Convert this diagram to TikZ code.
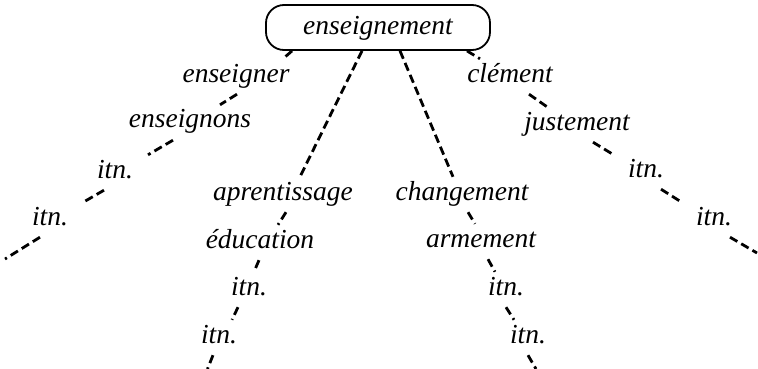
\documentclass[tikz,border=0pt]{standalone}
\usepackage{fontspec}
\setmainfont{Liberation Serif}
\newcommand\wordfont{\fontsize{27.5}{33}\selectfont\itshape}
\begin{document}
\begin{tikzpicture}[x=1pt,y=-1pt,
  word/.style={font=\wordfont, anchor=base, text height=19pt, text depth=8pt, inner sep=4pt},
  rootbox/.style={draw, line width=1.8pt, rounded corners=18pt, font=\wordfont, anchor=base,
    minimum width=224pt, text height=24pt, text depth=9pt, inner ysep=6pt},
  link/.style={line width=2.8pt, dash pattern=on 8.5pt off 4.5pt}]
\useasboundingbox (0,0) rectangle (758,369);
\fill[white] (0,0) rectangle (758,369);

% root word
\node[rootbox] (root) at (378,35) {enseignement};

% left branch
\node[word] (enseigner)  at (236,82)  {enseigner};
\node[word] (enseignons) at (190,128) {enseignons};
\node[word] (itnA)       at (115,178) {itn.};
\node[word] (itnB)       at (50,225)  {itn.};
\coordinate (endB) at (5,259);

% middle-left branch
\node[word] (aprent) at (283,200) {aprentissage};
\node[word] (educ)   at (260,248) {éducation};
\node[word] (itnC)   at (249,295) {itn.};
\node[word] (itnD)   at (219,343) {itn.};
\coordinate (endD) at (207.5,369);

% middle-right branch
\node[word] (changement) at (462,200) {changement};
\node[word] (armement)   at (481,247) {armement};
\node[word] (itnE)       at (506,295) {itn.};
\node[word] (itnF)       at (528,343) {itn.};
\coordinate (endF) at (536,369);

% right branch
\node[word] (clement)   at (510,82)  {clément};
\node[word] (justement) at (577,130) {justement};
\node[word] (itnG)      at (646,177) {itn.};
\node[word] (itnH)      at (714,225) {itn.};
\coordinate (endH) at (757,253);

% links from the root
\draw[link] ([xshift=-86pt]root.south) -- ([xshift=47pt]enseigner.north);
\draw[link] ([xshift=-16pt]root.south) -- ([xshift=17pt]aprent.north);
\draw[link] ([xshift=22pt]root.south)  -- ([xshift=-9pt]changement.north);
\draw[link] ([xshift=89pt]root.south)  -- ([xshift=-30pt]clement.north);

% left chain
\draw[link] ([xshift=1pt]enseigner.south)   -- ([xshift=30pt]enseignons.north);
\draw[link] ([xshift=-17pt]enseignons.south) -- ([xshift=33pt]itnA.north);
\draw[link] ([xshift=-11pt]itnA.south)       -- ([xshift=34pt]itnB.north);
\draw[link] ([xshift=-10pt]itnB.south)       -- (endB);

% middle-left chain
\draw[link] ([xshift=3pt]aprent.south)  -- ([xshift=18pt]educ.north);
\draw[link] ([xshift=-1pt]educ.south)   -- ([xshift=5pt]itnC.north);
\draw[link] ([xshift=-11pt]itnC.south)  -- ([xshift=13pt]itnD.north);
\draw[link] ([xshift=-6pt]itnD.south)   -- (endD);

% middle-right chain
\draw[link] ([xshift=6pt]changement.south) -- ([xshift=-6pt]armement.north);
\draw[link] ([xshift=7pt]armement.south)   -- ([xshift=-11pt]itnE.north);
\draw[link] (itnE.south)                   -- ([xshift=-14pt]itnF.north);
\draw[link] (itnF.south)                   -- (endF);

% right chain
\draw[link] ([xshift=19pt]clement.south)   -- ([xshift=-30pt]justement.north);
\draw[link] ([xshift=16pt]justement.south) -- ([xshift=-34pt]itnG.north);
\draw[link] ([xshift=15pt]itnG.south)      -- ([xshift=-33pt]itnH.north);
\draw[link] ([xshift=16pt]itnH.south)      -- (endH);
\end{tikzpicture}
\end{document}
